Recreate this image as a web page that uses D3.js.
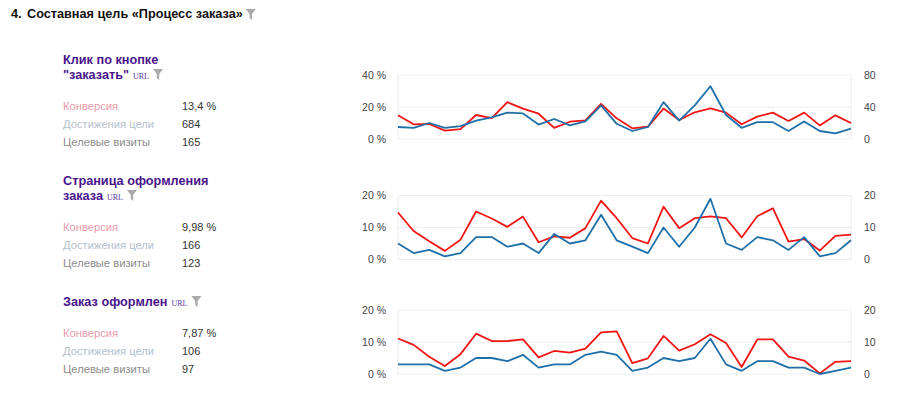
<!DOCTYPE html>
<html>
<head>
<meta charset="utf-8">
<script src="https://cdn.jsdelivr.net/npm/d3@7"></script>
<style>
    html, body { margin: 0; background: #fff; }
    svg { display: block; font-family: "Liberation Sans", Arial, sans-serif; }
    .tick text { font-size: 10.5px; fill: #444; }
    .grid line { stroke: #eee; }
    .trace { fill: none; stroke-width: 1.8; stroke-linejoin: round; }
</style>
</head>
<body>
<script>
const titleNumber = "4.";
const titleText = "Составная цель «Процесс заказа»";
const metricNames = ["Конверсия", "Достижения цели", "Целевые визиты"];

const goalNames = [
    ["Клик по кнопке", "\"заказать\""],
    ["Страница оформления", "заказа"],
    ["Заказ оформлен"]
];
const goalStats = [
    ["13,4 %", "684", "165"],
    ["9,98 %", "166", "123"],
    ["7,87 %", "106", "97"]
];

const leftTicks = [[0, 20, 40], [0, 10, 20], [0, 10, 20]];
const rightTicks = [[0, 40, 80], [0, 10, 20], [0, 10, 20]];

// red line, conversion in percent, left axis
const conversion1 = [14.8, 9.2, 9.4, 5.2, 6.2, 15, 13, 23, 19, 15.8, 7, 10.8, 11.7, 22, 12.9,
    6.7, 7.7, 19, 11.9, 16.7, 19.2, 16.5, 9.2, 14, 16.5, 11.3, 16.5, 8.5, 14.8, 10];
const conversion2 = [14.7, 8.9, 5.7, 2.7, 6.2, 15, 12.8, 10.2, 13.4, 5.4, 7.2, 6.8, 9.8, 18.4, 12.9,
    6.7, 5, 16.5, 9.8, 12.9, 13.5, 12.9, 6.9, 13.5, 16, 5.6, 6.4, 2.8, 7.4, 7.8];
const conversion3 = [11.1, 9.1, 5.4, 2.5, 6.2, 12.6, 10.3, 10.3, 10.8, 5.2, 7.2, 6.7, 7.9, 13, 13.3,
    3.4, 4.9, 11.9, 7.3, 9.3, 12.4, 9.7, 2.2, 10.8, 10.8, 5.4, 4.2, 0.2, 3.8, 4];

// blue line, target visits, right axis
const visits1 = [15, 14, 20, 14, 16, 23, 27, 33, 32, 18, 25, 17, 22, 42, 19,
    10, 15, 46, 23, 42, 66, 30, 14, 21, 21, 10, 22, 10, 7, 13];
const visits2 = [5, 2, 3, 1, 2, 7, 7, 4, 5, 2, 8, 5, 6, 14, 6,
    4, 2, 10, 4, 10, 19, 5, 3, 7, 6, 3, 7, 1, 2, 6];
const visits3 = [3, 3, 3, 1, 2, 5, 5, 4, 6, 2, 3, 3, 6, 7, 6,
    1, 2, 5, 4, 5, 11, 3, 1, 4, 4, 2, 2, 0, 1, 2];

const conversions = [conversion1, conversion2, conversion3];
const visits = [visits1, visits2, visits3];

const width = 900;
const height = 394;
const plotLeft = 398;
const plotRight = 851;
const plotTops = [75, 195.5, 310];
const plotHeight = 64;
const nameTops = [64, 185, 306];
const statTops = [110, 231, 337];
const statRow = 18;
const metricColors = ["#e89aa8", "#b4c0cc", "#8c8c8c"];

const svg = d3.select("body").append("svg")
    .attr("width", width)
    .attr("height", height);

function drawFilter(g, x, y)
{
    // little funnel icon, unit box 10x11
    g.append("path")
        .attr("d", "M0,0L10,0L6.2,5L6.2,11L3.8,9L3.8,5Z")
        .attr("transform", `translate(${x},${y})`)
        .attr("fill", "#aaa");
}

function drawHeader(g)
{
    g.append("text").attr("x", 11).attr("y", 18)
        .attr("font-size", 12.7).attr("font-weight", "bold").attr("fill", "#111")
        .text(titleNumber);
    let t = g.append("text").attr("x", 27).attr("y", 18)
        .attr("font-size", 12.7).attr("font-weight", "bold").attr("fill", "#111")
        .text(titleText);
    drawFilter(g, 27 + t.node().getComputedTextLength() + 3, 9);
}

function drawGoal(g, k)
{
    let last;
    goalNames[k].forEach((line, i) => {
        last = g.append("text")
            .attr("x", 63).attr("y", nameTops[k] + i * 15)
            .attr("font-size", 12.7).attr("font-weight", "bold").attr("fill", "#4a148c")
            .text(line);
    });
    let lastY = nameTops[k] + (goalNames[k].length - 1) * 15;
    let urlX = 63 + last.node().getComputedTextLength() + 4;
    let url = g.append("text")
        .attr("x", urlX).attr("y", lastY)
        .attr("font-family", "'Liberation Serif', serif")
        .attr("font-size", 8).attr("fill", "#5e35a0")
        .text("URL");
    drawFilter(g, urlX + url.node().getComputedTextLength() + 4, lastY - 10);

    metricNames.forEach((name, i) => {
        g.append("text")
            .attr("x", 63).attr("y", statTops[k] + i * statRow)
            .attr("font-size", 11.2).attr("fill", metricColors[i])
            .text(name);
        g.append("text")
            .attr("x", 182).attr("y", statTops[k] + i * statRow)
            .attr("font-size", 11).attr("fill", "#333")
            .text(goalStats[k][i]);
    });
}

function drawPlot(g, k)
{
    let top = plotTops[k];
    let bottom = top + plotHeight;

    let xScale = d3.scaleLinear()
        .domain([0, conversions[k].length - 1])
        .range([plotLeft, plotRight]);
    let yLeft = d3.scaleLinear()
        .domain([leftTicks[k][0], leftTicks[k][2]])
        .range([bottom, top]);
    let yRight = d3.scaleLinear()
        .domain([rightTicks[k][0], rightTicks[k][2]])
        .range([bottom, top]);

    let grid = g.append("g").classed("grid", true);
    grid.selectAll("line.h")
        .data(leftTicks[k])
        .enter().append("line")
        .attr("x1", plotLeft).attr("x2", plotRight)
        .attr("y1", d => yLeft(d)).attr("y2", d => yLeft(d));
    grid.selectAll("line.v")
        .data([plotLeft, plotRight])
        .enter().append("line")
        .attr("x1", d => d).attr("x2", d => d)
        .attr("y1", top).attr("y2", bottom);

    let axisL = d3.axisLeft(yLeft)
        .tickValues(leftTicks[k]).tickFormat(d => d + " %").tickSize(0).tickPadding(12);
    g.append("g")
        .attr("transform", `translate(${plotLeft},0)`)
        .call(axisL)
        .call(a => a.select(".domain").remove());

    let axisR = d3.axisRight(yRight)
        .tickValues(rightTicks[k]).tickSize(0).tickPadding(13);
    g.append("g")
        .attr("transform", `translate(${plotRight},0)`)
        .call(axisR)
        .call(a => a.select(".domain").remove());

    let lineRed = d3.line().x((d, i) => xScale(i)).y(d => yLeft(d));
    let lineBlue = d3.line().x((d, i) => xScale(i)).y(d => yRight(d));

    g.append("path").classed("trace", true)
        .attr("stroke", "#f01414")
        .attr("d", lineRed(conversions[k]));
    g.append("path").classed("trace", true)
        .attr("stroke", "#1f6fa8")
        .attr("d", lineBlue(visits[k]));
}

drawHeader(svg.append("g"));
goalNames.forEach((d, k) => {
    drawGoal(svg.append("g"), k);
    drawPlot(svg.append("g"), k);
});
</script>
</body>
</html>
